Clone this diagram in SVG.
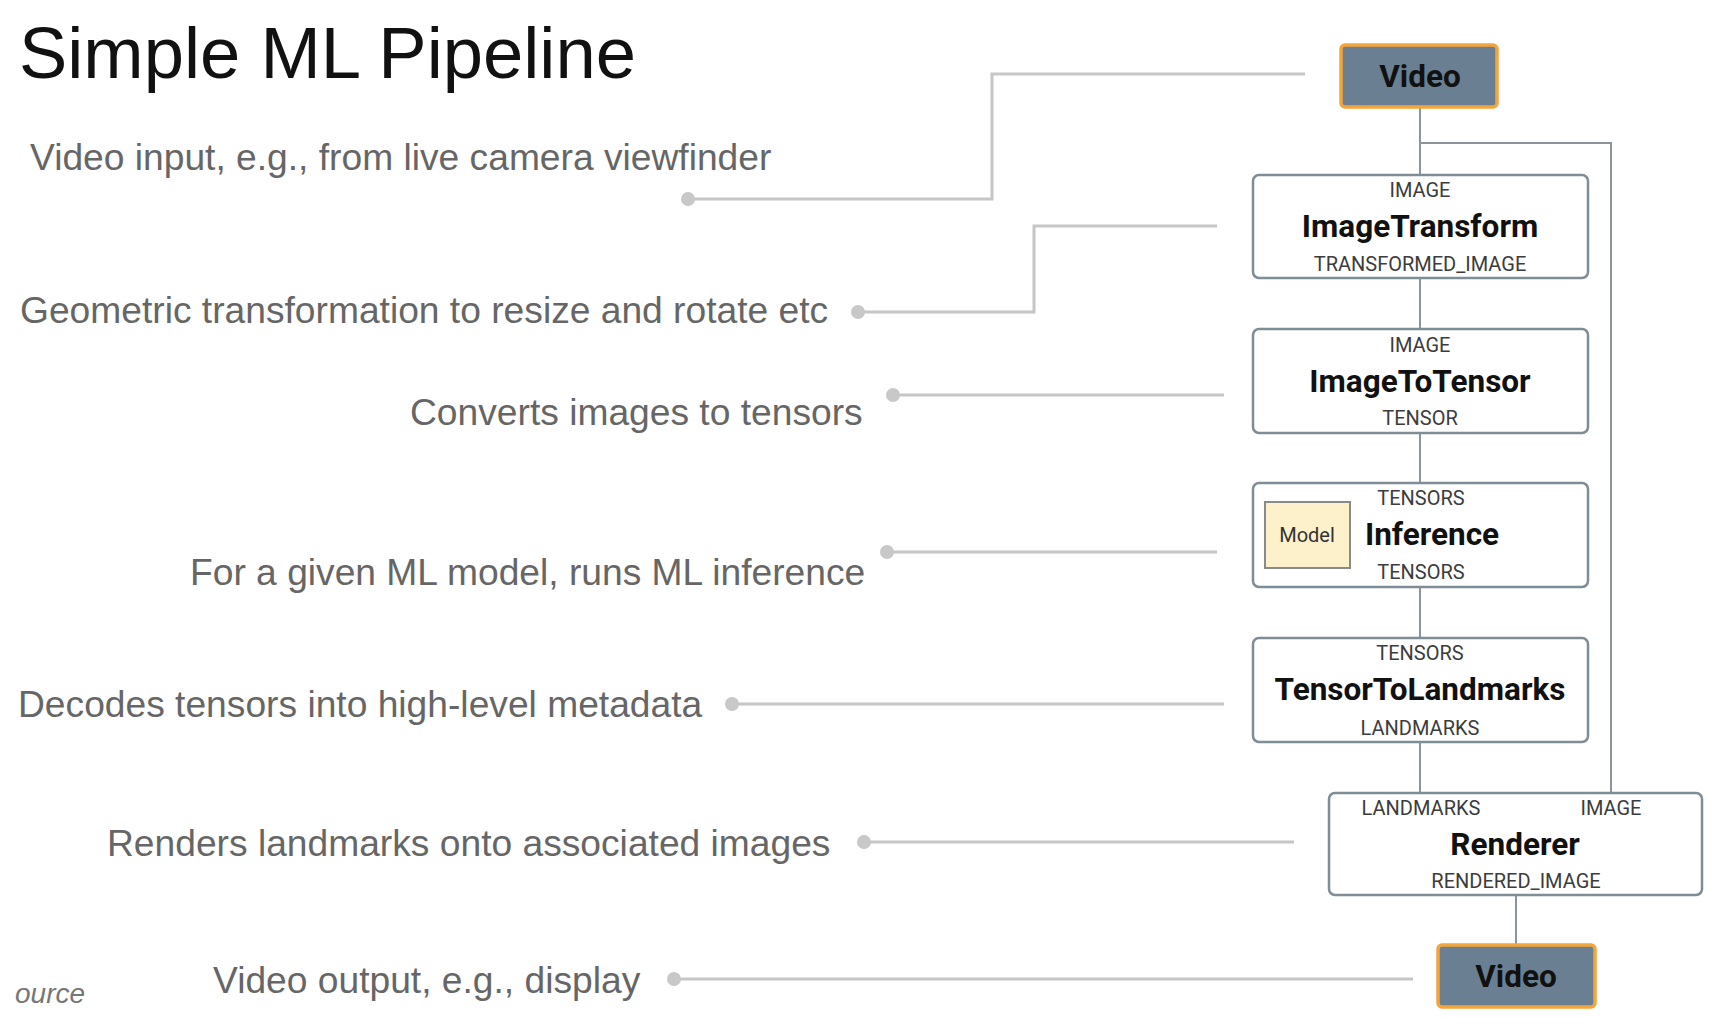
<svg xmlns="http://www.w3.org/2000/svg" width="1734" height="1032" viewBox="0 0 1734 1032">
<style>
.title{font-family:"Liberation Sans",Arial,sans-serif;font-size:72.4px;fill:#111}
.ann{font-family:"Liberation Sans",Arial,sans-serif;font-size:37.2px;fill:#666}
.src{font-family:"Liberation Sans",Arial,sans-serif;font-size:28px;font-style:italic;fill:#777}
.node{fill:#fff;stroke:#7f8d97;stroke-width:2.5}
.vid{fill:#6a8092;stroke:#f4a53a;stroke-width:3.5}
.nt{font-family:Roboto,"Liberation Sans",sans-serif;font-size:31.5px;font-weight:bold;fill:#111;text-anchor:middle}
.port{font-family:Roboto,"Liberation Sans",sans-serif;font-size:20px;fill:#3c3c3c;text-anchor:middle}
.edge{fill:none;stroke:#8c959c;stroke-width:2}
.lead{fill:none;stroke:#c6c6c6;stroke-width:3}
.dot{fill:#c8c8c8}
</style>
<rect width="1734" height="1032" fill="#fff"/>
<text class="title" x="19" y="78">Simple ML Pipeline</text>
<g id="annotations">
<text class="ann" x="30" y="170">Video input, e.g., from live camera viewfinder</text>
<text class="ann" x="20" y="323">Geometric transformation to resize and rotate etc</text>
<text class="ann" x="410" y="425">Converts images to tensors</text>
<text class="ann" x="190" y="585">For a given ML model, runs ML inference</text>
<text class="ann" x="18" y="717">Decodes tensors into high-level metadata</text>
<text class="ann" x="107" y="856">Renders landmarks onto associated images</text>
<text class="ann" x="213" y="993">Video output, e.g., display</text>
<text class="src" x="15" y="1003">ource</text>
</g>
<g id="leaders">
<path class="lead" d="M688,199 H992 V74 H1305"/>
<path class="lead" d="M858,312 H1034 V226 H1217"/>
<path class="lead" d="M893,395 H1224"/>
<path class="lead" d="M887,552 H1217"/>
<path class="lead" d="M732,704 H1224"/>
<path class="lead" d="M864,842 H1294"/>
<path class="lead" d="M674,979 H1413"/>
<circle class="dot" cx="688" cy="199" r="7"/>
<circle class="dot" cx="858" cy="312" r="7"/>
<circle class="dot" cx="893" cy="395" r="7"/>
<circle class="dot" cx="887" cy="552" r="7"/>
<circle class="dot" cx="732" cy="704" r="7"/>
<circle class="dot" cx="864" cy="842" r="7"/>
<circle class="dot" cx="674" cy="979" r="7"/>
</g>
<g id="connectors">
<path class="edge" d="M1420,107 V175"/>
<path class="edge" d="M1420,143 H1611 V793"/>
<path class="edge" d="M1420,278 V329"/>
<path class="edge" d="M1420,433 V483"/>
<path class="edge" d="M1420,587 V638"/>
<path class="edge" d="M1420,742 V793"/>
<path class="edge" d="M1516,895 V945"/>
</g>
<g id="video-in">
<rect class="vid" x="1341" y="45" width="156" height="62" rx="4"/>
<text class="nt" x="1420" y="87">Video</text>
</g>
<g id="image-transform">
<rect class="node" x="1253" y="175" width="335" height="103" rx="6"/>
<text class="port" x="1420" y="197">IMAGE</text>
<text class="nt" x="1420" y="237">ImageTransform</text>
<text class="port" x="1420" y="271">TRANSFORMED_IMAGE</text>
</g>
<g id="image-to-tensor">
<rect class="node" x="1253" y="329" width="335" height="104" rx="6"/>
<text class="port" x="1420" y="352">IMAGE</text>
<text class="nt" x="1420" y="392">ImageToTensor</text>
<text class="port" x="1420" y="425">TENSOR</text>
</g>
<g id="inference">
<rect class="node" x="1253" y="483" width="335" height="104" rx="6"/>
<rect x="1265" y="502" width="85" height="66" fill="#fdf1cc" stroke="#8a8a8a" stroke-width="2"/>
<text class="port" x="1307" y="542" style="font-size:20px;fill:#333">Model</text>
<text class="port" x="1421" y="505">TENSORS</text>
<text class="nt" x="1432" y="545">Inference</text>
<text class="port" x="1421" y="579">TENSORS</text>
</g>
<g id="tensor-to-landmarks">
<rect class="node" x="1253" y="638" width="335" height="104" rx="6"/>
<text class="port" x="1420" y="660">TENSORS</text>
<text class="nt" x="1420" y="700">TensorToLandmarks</text>
<text class="port" x="1420" y="735">LANDMARKS</text>
</g>
<g id="renderer">
<rect class="node" x="1329" y="793" width="373" height="102" rx="6"/>
<text class="port" x="1421" y="815">LANDMARKS</text>
<text class="port" x="1611" y="815">IMAGE</text>
<text class="nt" x="1515" y="855">Renderer</text>
<text class="port" x="1516" y="888">RENDERED_IMAGE</text>
</g>
<g id="video-out">
<rect class="vid" x="1438" y="945" width="157" height="62" rx="4"/>
<text class="nt" x="1516" y="987">Video</text>
</g>
</svg>
